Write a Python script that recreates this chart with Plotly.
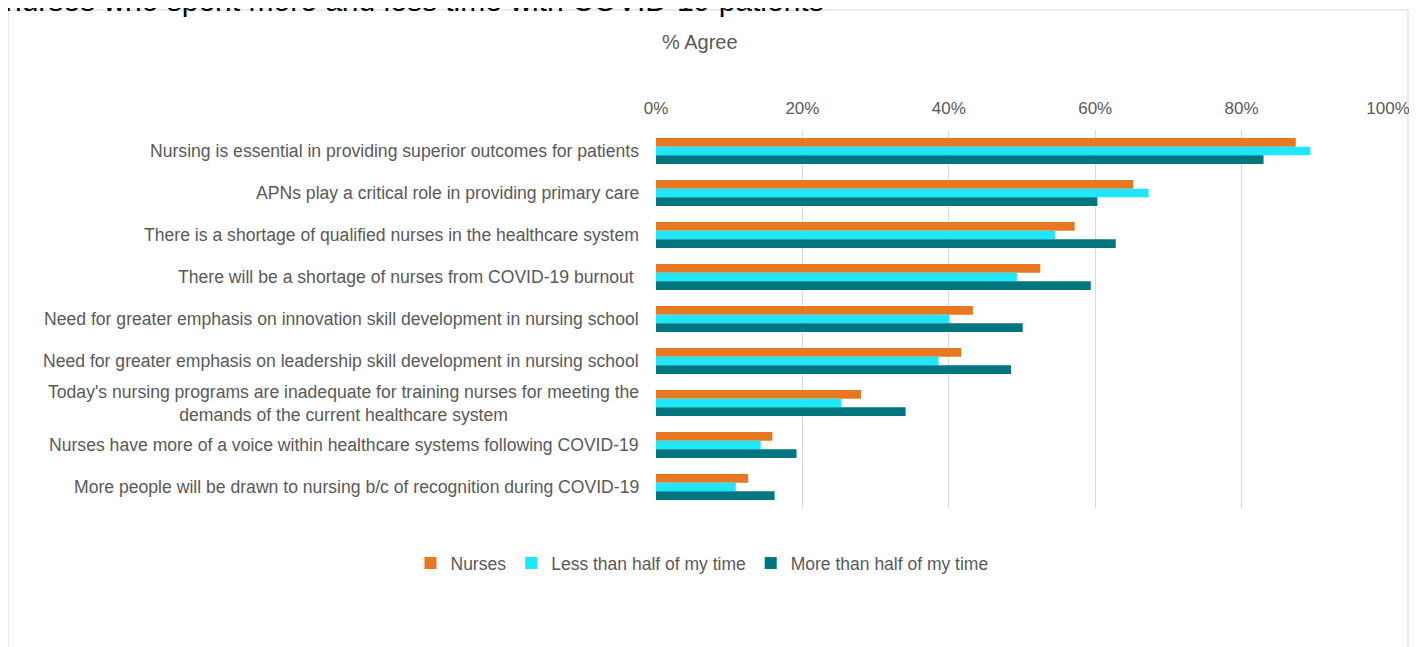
import plotly.graph_objects as go

# --- Data
statements = [
    "Nursing is essential in providing superior outcomes for patients",
    "APNs play a critical role in providing primary care",
    "There is a shortage of qualified nurses in the healthcare system",
    "There will be a shortage of nurses from COVID-19 burnout ",
    "Need for greater emphasis on innovation skill development in nursing school",
    "Need for greater emphasis on leadership skill development in nursing school",
    "Today's nursing programs are inadequate for training nurses for meeting the<br>demands of the current healthcare system",
    "Nurses have more of a voice within healthcare systems following COVID-19",
    "More people will be drawn to nursing b/c of recognition during COVID-19",
]
nurses = [0.874, 0.652, 0.572, 0.525, 0.433, 0.417, 0.280, 0.159, 0.126]
less_half = [0.894, 0.673, 0.545, 0.493, 0.401, 0.386, 0.253, 0.143, 0.109]
more_half = [0.830, 0.603, 0.628, 0.594, 0.501, 0.485, 0.341, 0.192, 0.162]

series_names = ["Nurses", "Less than half of my time", "More than half of my time"]
series_colors = ["#E87722", "#1BE7FF", "#00767E"]
x_ticks = [0, 0.2, 0.4, 0.6, 0.8, 1.0]

FONT = "Liberation Sans, Arial, sans-serif"
GRAY = "#595959"

# --- Layout geometry, in screen pixels (page body adds an 8px offset)
W, H = 1417, 647
OFF = 8
PLOT_X0, PLOT_X1 = 656, 1388
PLOT_Y0, PLOT_Y1 = 130, 508
L, R = PLOT_X0 - OFF, W - (PLOT_X1 - OFF)
T, B = PLOT_Y0 - OFF, H - (PLOT_Y1 - OFF)
PW, PH = PLOT_X1 - PLOT_X0, PLOT_Y1 - PLOT_Y0


def px_x(px):
    return (px - PLOT_X0) / PW


def px_y(py):
    return (PLOT_Y1 - py) / PH


fig = go.Figure()
for name, vals, color in zip(series_names, [nurses, less_half, more_half], series_colors):
    fig.add_trace(go.Bar(
        y=statements, x=vals, name=name, orientation="h",
        marker=dict(color=color, line=dict(width=0)),
    ))

# category labels as annotations so wrapped lines stay centred
for s in statements:
    fig.add_annotation(
        text=s, xref="paper", yref="y", x=px_x(641), y=s,
        xanchor="right", yanchor="middle", align="center", showarrow=False,
        font=dict(family=FONT, size=17.6, color=GRAY),
    )

# axis title
fig.add_annotation(
    text="% Agree", xref="paper", yref="paper", x=px_x(700), y=px_y(42),
    xanchor="center", yanchor="middle", showarrow=False,
    font=dict(family=FONT, size=20, color=GRAY),
)

# cut-off slide title peeking in at the top
fig.add_annotation(
    text="nurses who spent more and less time with COVID-19 patients",
    xref="paper", yref="paper", x=px_x(3), y=px_y(19),
    xanchor="left", yanchor="bottom", showarrow=False,
    font=dict(family=FONT, size=30, color="#000000"),
)

# chart area frame
fig.add_shape(
    type="rect", xref="paper", yref="paper",
    x0=px_x(8), x1=px_x(1408), y0=px_y(700), y1=px_y(10),
    line=dict(color="#D9D9D9", width=1), fillcolor="rgba(0,0,0,0)", layer="below",
)

fig.update_layout(
    width=W, height=H,
    margin=dict(l=L, r=R, t=T, b=B),
    paper_bgcolor="white", plot_bgcolor="white",
    barmode="group", bargap=0.38, bargroupgap=0,
    font=dict(family=FONT, size=17, color=GRAY),
    showlegend=True,
    legend=dict(
        orientation="h", x=px_x(702), y=px_y(563),
        xanchor="center", yanchor="middle",
        font=dict(family=FONT, size=17.5, color=GRAY),
        itemwidth=30, traceorder="normal",
    ),
    xaxis=dict(
        side="top", range=[0, 1.0], tickvals=x_ticks, tickformat=".0%",
        showgrid=True, gridcolor="#D9D9D9", gridwidth=1,
        zeroline=False, showline=False,
        tickfont=dict(family=FONT, size=17, color=GRAY),
        ticks="outside", ticklen=8, tickcolor="rgba(0,0,0,0)",
    ),
    yaxis=dict(
        autorange="reversed", showticklabels=False, showgrid=False,
        zeroline=False, showline=False,
    ),
)

fig.write_html("out.html")
